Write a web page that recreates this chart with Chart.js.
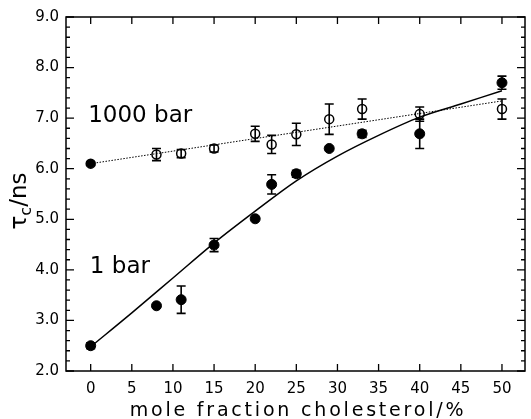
<!DOCTYPE html>
<html><head><meta charset="utf-8">
<script src="https://cdn.jsdelivr.net/npm/chart.js@4"></script>
<style>html,body{margin:0;padding:0;background:#fff}#wrap{width:531px;height:419px}</style>
</head><body><div id="wrap"><canvas id="c" width="531" height="419"></canvas></div>
<script>
// ---- data ----
const xPts = [0, 8, 11, 15, 20, 22, 25, 29, 33, 40, 50];
const tau1bar = [2.50, 3.29, 3.41, 4.49, 5.01, 5.69, 5.90, 6.40, 6.69, 6.69, 7.70];
const err1bar = [0.06, 0, 0.27, 0.13, 0, 0.19, 0.07, 0, 0.07, 0.29, 0.13];
const tau1000 = [6.10, 6.28, 6.30, 6.40, 6.69, 6.48, 6.68, 6.98, 7.18, 7.08, 7.18];
const err1000 = [0.03, 0.12, 0.08, 0.07, 0.15, 0.18, 0.22, 0.30, 0.20, 0.14, 0.20];
const fitX1bar = [0, 5, 10, 15, 20, 25, 30, 35, 40, 45, 50];
const fitY1bar = [2.48, 3.15, 3.84, 4.53, 5.16, 5.76, 6.25, 6.66, 7.02, 7.28, 7.54];
const fitX1000 = [0, 50];
const fitY1000 = [6.10, 7.34];
const xTickLabels = [0, 5, 10, 15, 20, 25, 30, 35, 40, 45, 50];
const yTickLabels = [2, 3, 4, 5, 6, 7, 8, 9];
const seriesLabels = ['1 bar', '1000 bar'];

const FONT = '"DejaVu Sans", sans-serif';
const toXY = (xs, ys) => xs.map((x, i) => ({x, y: ys[i]}));

const errorBars = {
  id: 'errorBars',
  afterDatasetsDraw(chart) {
    const {ctx, scales: {x, y}} = chart;
    ctx.save();
    ctx.strokeStyle = '#000';
    ctx.lineWidth = 1.6;
    const draw = (vals, errs) => {
      xPts.forEach((xv, i) => {
        const e = errs[i];
        if (!e) return;
        const px = x.getPixelForValue(xv);
        const y1 = y.getPixelForValue(vals[i] + e);
        const y2 = y.getPixelForValue(vals[i] - e);
        ctx.beginPath();
        ctx.moveTo(px, y1); ctx.lineTo(px, y2);
        ctx.moveTo(px - 4.5, y1); ctx.lineTo(px + 4.5, y1);
        ctx.moveTo(px - 4.5, y2); ctx.lineTo(px + 4.5, y2);
        ctx.stroke();
      });
    };
    draw(tau1bar, err1bar);
    draw(tau1000, err1000);
    ctx.restore();
  }
};

const frame = {
  id: 'frame',
  afterDraw(chart) {
    const {ctx, chartArea: a, scales: {x, y}} = chart;
    ctx.save();
    ctx.strokeStyle = '#000';
    ctx.lineWidth = 1.5;
    ctx.strokeRect(a.left, a.top, a.right - a.left, a.bottom - a.top);
    ctx.lineWidth = 1.3;
    ctx.beginPath();
    xTickLabels.forEach(v => {
      const px = x.getPixelForValue(v);
      ctx.moveTo(px, a.bottom); ctx.lineTo(px, a.bottom - 7);
      ctx.moveTo(px, a.top); ctx.lineTo(px, a.top + 7);
    });
    for (let k = 0; k <= 35; k++) {
      const v = 2 + k * 0.2;
      const py = y.getPixelForValue(v);
      const len = (k % 5 === 0) ? 8 : 4;
      ctx.moveTo(a.left, py); ctx.lineTo(a.left + len, py);
      ctx.moveTo(a.right, py); ctx.lineTo(a.right - len, py);
    }
    ctx.stroke();

    ctx.fillStyle = '#000';
    // x title
    ctx.font = '19px ' + FONT;
    ctx.letterSpacing = '2.8px';
    ctx.textAlign = 'center';
    ctx.textBaseline = 'alphabetic';
    ctx.fillText('mole fraction cholesterol/%', 298, 416);
    ctx.letterSpacing = '0px';
    // y title with subscript
    ctx.save();
    ctx.translate(26, 201);
    ctx.rotate(-Math.PI / 2);
    const big = '23px ' + FONT, small = '16px ' + FONT;
    ctx.font = big; const w1 = ctx.measureText('τ').width;
    ctx.font = small; const w2 = ctx.measureText('c').width;
    ctx.font = big; const w3 = ctx.measureText('/ns').width;
    let sx = -(w1 + w2 + w3) / 2;
    ctx.textAlign = 'left';
    ctx.font = big; ctx.fillText('τ', sx, 0); sx += w1;
    ctx.font = small; ctx.fillText('c', sx, 5); sx += w2;
    ctx.font = big; ctx.fillText('/ns', sx, 0);
    ctx.restore();
    // series labels
    ctx.font = '23px ' + FONT;
    ctx.textAlign = 'left';
    ctx.textBaseline = 'middle';
    ctx.fillText(seriesLabels[1], x.getPixelForValue(-0.3), y.getPixelForValue(7.05));
    ctx.fillText(seriesLabels[0], x.getPixelForValue(-0.1), y.getPixelForValue(4.05));
    ctx.restore();
  }
};

new Chart(document.getElementById('c'), {
  type: 'scatter',
  data: {
    datasets: [
      {label: 'fit 1000 bar', data: toXY(fitX1000, fitY1000), showLine: true, pointRadius: 0,
       borderColor: '#000', borderWidth: 1, borderDash: [1.5, 1.5]},
      {label: 'fit 1 bar', data: toXY(fitX1bar, fitY1bar), showLine: true, pointRadius: 0,
       borderColor: '#000', borderWidth: 1.5, tension: 0.4, cubicInterpolationMode: 'monotone'},
      {label: seriesLabels[1], data: toXY(xPts, tau1000), pointRadius: 4.5,
       pointBackgroundColor: xPts.map((v, i) => i === 0 ? '#000' : 'rgba(255,255,255,0)'),
       pointBorderColor: '#000', pointBorderWidth: 1.5},
      {label: seriesLabels[0], data: toXY(xPts, tau1bar), pointRadius: 5,
       pointBackgroundColor: '#000', pointBorderColor: '#000', pointBorderWidth: 1}
    ]
  },
  options: {
    responsive: false,
    animation: false,
    events: [],
    layout: {padding: {top: 17, right: 1, left: 0, bottom: 0}},
    plugins: {legend: {display: false}, tooltip: {enabled: false}, title: {display: false}},
    scales: {
      x: {
        type: 'linear', min: -3, max: 52.8,
        afterFit: s => { s.height = 48; },
        afterBuildTicks: s => { s.ticks = xTickLabels.map(v => ({value: v})); },
        grid: {display: false, drawTicks: false},
        border: {display: false},
        ticks: {color: '#000', font: {family: FONT, size: 15}, padding: 9, maxRotation: 0}
      },
      y: {
        type: 'linear', min: 2, max: 9,
        afterFit: s => { s.width = 66; },
        afterBuildTicks: s => { s.ticks = yTickLabels.map(v => ({value: v})); },
        grid: {display: false, drawTicks: false},
        border: {display: false},
        ticks: {color: '#000', font: {family: FONT, size: 15}, padding: 7,
                callback: v => v.toFixed(1)}
      }
    }
  },
  plugins: [errorBars, frame]
});
</script></body></html>
